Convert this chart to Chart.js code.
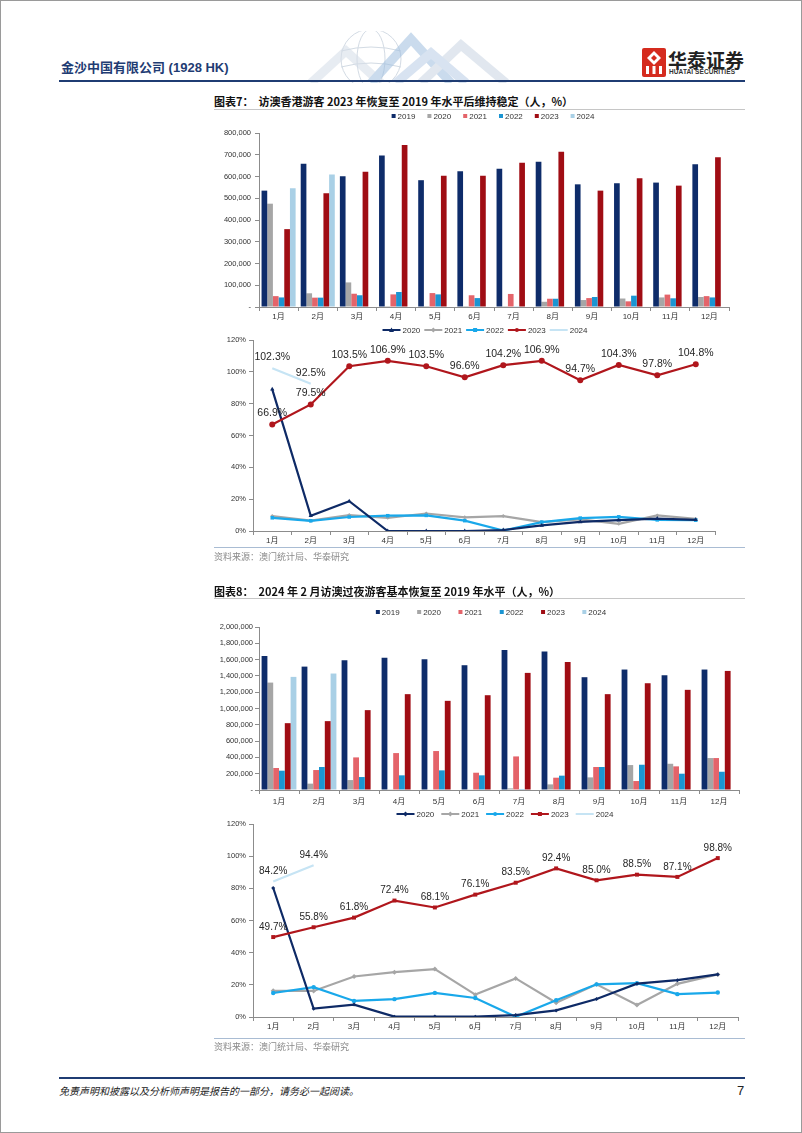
<!DOCTYPE html>
<html><head><meta charset="utf-8">
<script src="https://cdn.jsdelivr.net/npm/chart.js@4.4.1/dist/chart.umd.min.js"></script>
<style>
html,body{margin:0;padding:0;background:#fff;}
#page{position:relative;width:802px;height:1133px;box-sizing:border-box;border:1px solid #9a9a9a;overflow:hidden;font-family:"Liberation Sans","Noto Sans CJK SC",sans-serif;background:#fff;}
.abs{position:absolute;white-space:nowrap;}
canvas{position:absolute;}
</style></head><body><div id="page">

<svg class="abs" style="left:300px;top:30px" width="240" height="52" viewBox="0 0 240 52">
  <g fill="none" stroke="#cfd8e2" stroke-width="1" opacity="0.9">
    <circle cx="70" cy="28" r="30"/>
    <ellipse cx="70" cy="28" rx="14" ry="30"/>
    <path d="M40 20 Q70 12 100 20 M40 36 Q70 28 100 36"/>
  </g>
  <g fill="none" stroke-width="9" stroke-linejoin="miter" opacity="0.55">
    <polyline points="10,52 45,20 80,52" stroke="#d5dde8"/>
    <polyline points="70,52 110,8 150,52" stroke="#9fbfe0"/>
    <polyline points="120,52 160,14 205,52" stroke="#c9d5e3"/>
    <polyline points="95,52 130,22 165,52" stroke="#b9cde6"/>
  </g>
</svg>

<div class="abs" style="left:60px;top:58px;font-size:13px;line-height:18px;font-weight:bold;color:#1f3c73;">金沙中国有限公司 (1928 HK)</div>
<div class="abs" style="left:58px;top:79px;width:686px;height:2px;background:#1f3c73;"></div>

<svg class="abs" style="left:641px;top:47px" width="24" height="29" viewBox="0 0 24 29">
  <rect x="0" y="0" width="24" height="29" rx="2" fill="#d52b1e"/>
  <path d="M12 3 L19 10 L12 17 L5 10 Z" fill="#fff"/>
  <path d="M12 7 L15 10 L12 13 L9 10 Z" fill="#d52b1e"/>
  <rect x="4" y="18" width="3" height="8" fill="#fff"/>
  <rect x="10.5" y="18" width="3" height="8" fill="#fff"/>
  <rect x="17" y="18" width="3" height="8" fill="#fff"/>
</svg>
<div class="abs" style="left:667px;top:47px;font-size:19px;line-height:24px;font-weight:bold;color:#222;font-family:'Noto Sans CJK SC';">华泰证券</div>
<div class="abs" style="left:668px;top:67px;font-size:6.5px;line-height:8px;font-weight:bold;color:#333;letter-spacing:0.1px;">HUATAI SECURITIES</div>

<div class="abs" style="left:213px;top:92px;font-size:11px;line-height:16px;font-weight:bold;color:#111;font-family:'Noto Sans CJK SC','Liberation Sans';">图表7：&nbsp;&nbsp;访澳香港游客 2023 年恢复至 2019 年水平后维持稳定（人，%）</div>
<div class="abs" style="left:213px;top:108px;width:531px;height:1px;background:#c6c6c6;"></div>

<canvas id="c1" width="610" height="217" style="left:150px;top:108px;"></canvas>
<canvas id="c2" width="610" height="224" style="left:150px;top:322px;"></canvas>

<div class="abs" style="left:213px;top:546px;width:531px;height:1px;background:#a9bcd3;"></div>
<div class="abs" style="left:213px;top:550px;font-size:9px;line-height:12px;color:#8a8a8a;font-family:'Noto Sans CJK SC';">资料来源：澳门统计局、华泰研究</div>

<div class="abs" style="left:213px;top:582px;font-size:11px;line-height:16px;font-weight:bold;color:#111;font-family:'Noto Sans CJK SC','Liberation Sans';">图表8：&nbsp;&nbsp;2024 年 2 月访澳过夜游客基本恢复至 2019 年水平（人，%）</div>
<div class="abs" style="left:213px;top:597px;width:531px;height:1px;background:#c6c6c6;"></div>

<canvas id="c3" width="610" height="212" style="left:150px;top:598px;"></canvas>
<canvas id="c4" width="610" height="228" style="left:150px;top:806px;"></canvas>

<div class="abs" style="left:213px;top:1037px;width:531px;height:1px;background:#a9bcd3;"></div>
<div class="abs" style="left:213px;top:1040px;font-size:9px;line-height:12px;color:#8a8a8a;font-family:'Noto Sans CJK SC';">资料来源：澳门统计局、华泰研究</div>

<div class="abs" style="left:58px;top:1076px;width:686px;height:2px;background:#1f3c73;"></div>
<div class="abs" style="left:58px;top:1083px;font-size:10px;line-height:14px;font-style:italic;color:#222;font-family:'Noto Sans CJK SC';">免责声明和披露以及分析师声明是报告的一部分，请务必一起阅读。</div>
<div class="abs" style="left:736px;top:1082px;font-size:13px;line-height:16px;color:#222;">7</div>

</div>
<script>
// ---------- data ----------
const months = ['1月','2月','3月','4月','5月','6月','7月','8月','9月','10月','11月','12月'];
const years = ['2019','2020','2021','2022','2023','2024'];
const ratioYears = ['2020','2021','2022','2023','2024'];

// 图表7: 访澳香港游客 (人)
const hk2019 = [535000,659000,601000,697000,583000,624000,636000,668000,564000,569000,572000,656000];
const hk2020 = [475000,63000,113000,300,300,300,4000,24000,32000,39000,44000,46000];
const hk2021 = [50000,43000,61000,58000,64000,54000,60000,38000,41000,26000,57000,50000];
const hk2022 = [44000,43000,54000,69000,58000,41000,1500,38000,46000,52000,40000,44000];
const hk2023 = [358000,523000,622000,745000,604000,603000,663000,714000,535000,592000,558000,688000];
const hk2024 = [546000,609000,null,null,null,null,null,null,null,null,null,null];

// 图表7: 恢复率 (%)
const hkR2020 = [89.0,9.6,18.7,0.0,0.0,0.0,0.6,3.5,5.7,6.8,7.8,7.0];
const hkR2021 = [9.4,6.5,10.0,8.3,11.0,8.6,9.4,5.6,7.3,4.5,9.8,7.6];
const hkR2022 = [8.3,6.4,8.8,9.6,9.8,6.5,0.3,5.6,8.1,8.9,7.0,6.8];
const hkR2023 = [66.9,79.5,103.5,106.9,103.5,96.6,104.2,106.9,94.7,104.3,97.8,104.8];
const hkR2024 = [102.3,92.5,null,null,null,null,null,null,null,null,null,null];

// 图表8: 访澳过夜游客 (人)
const on2019 = [1645000,1514000,1592000,1624000,1604000,1531000,1718000,1698000,1384000,1478000,1408000,1478000];
const on2020 = [1318000,78000,122000,3000,5000,4000,20000,69000,155000,306000,322000,392000];
const on2021 = [270000,245000,400000,453000,478000,212000,412000,151000,282000,110000,290000,392000];
const on2022 = [237000,282000,159000,180000,241000,180000,2000,176000,282000,310000,200000,224000];
const on2023 = [820000,845000,980000,1176000,1094000,1163000,1437000,1571000,1176000,1310000,1229000,1461000];
const on2024 = [1388000,1429000,null,null,null,null,null,null,null,null,null,null];

// 图表8: 恢复率 (%)
const onR2020 = [80.2,5.2,7.7,0.2,0.3,0.2,1.2,4.1,11.2,20.7,22.9,26.5];
const onR2021 = [16.3,16.2,25.2,27.9,29.8,13.9,24.0,8.9,20.3,7.4,20.6,26.5];
const onR2022 = [14.9,18.6,10.0,11.1,15.0,11.8,0.1,10.4,20.3,21.0,14.2,15.2];
const onR2023 = [49.7,55.8,61.8,72.4,68.1,76.1,83.5,92.4,85.0,88.5,87.1,98.8];
const onR2024 = [84.2,94.4,null,null,null,null,null,null,null,null,null,null];

// 刻度
const barTicks1 = [0,100000,200000,300000,400000,500000,600000,700000,800000];
const barTicks2 = [0,200000,400000,600000,800000,1000000,1200000,1400000,1600000,1800000,2000000];
const pctTicks = [0,20,40,60,80,100,120];

// ---------- style ----------
const barColors = ['#0e2c6a','#a6a6a6','#e4646a','#1b95d2','#a00d14','#a9d0e6'];
const lineColors = ['#0e2a66','#a6a6a6','#19a8ea','#b0161c','#c6e4f4'];
const FONT = '"Liberation Sans","Noto Sans CJK SC",sans-serif';
const AX = '#8c8c8c';
const TXT = '#333333';

Chart.defaults.font.family = FONT;
Chart.defaults.animation = false;
Chart.defaults.responsive = false;
Chart.defaults.devicePixelRatio = 1;

function drawMarker(ctx, style, x, y, r, color){
  ctx.save();
  ctx.fillStyle = color; ctx.strokeStyle = color; ctx.lineWidth = 1;
  ctx.beginPath();
  if(style==='circle'){ ctx.arc(x,y,r,0,Math.PI*2); ctx.fill(); }
  else if(style==='rect'){ ctx.fillRect(x-r,y-r,2*r,2*r); }
  else if(style==='rectRot'){ ctx.moveTo(x,y-r-0.5); ctx.lineTo(x+r+0.5,y); ctx.lineTo(x,y+r+0.5); ctx.lineTo(x-r-0.5,y); ctx.closePath(); ctx.fill(); }
  else if(style==='triangle'){ ctx.moveTo(x,y-r-0.5); ctx.lineTo(x+r+0.5,y+r); ctx.lineTo(x-r-0.5,y+r); ctx.closePath(); ctx.fill(); }
  ctx.restore();
}

const customLegend = {
  id:'customLegend',
  afterDraw(chart, args, o){
    const ctx = chart.ctx, ca = chart.chartArea;
    const ds = chart.data.datasets;
    ctx.save();
    ctx.font = o.fontSize+'px '+FONT;
    ctx.textBaseline = 'middle';
    const symW = o.type==='line' ? o.lineLen : o.box;
    const widths = ds.map(d => symW + o.symGap + ctx.measureText(d.label).width);
    const total = widths.reduce((a,b)=>a+b,0) + o.gap*(ds.length-1);
    let x = (ca.left+ca.right)/2 + o.dx - total/2;
    const y = ca.top - o.dy;
    ds.forEach((d,i)=>{
      if(o.type==='line'){
        ctx.strokeStyle = d.borderColor; ctx.lineWidth = 2;
        ctx.beginPath(); ctx.moveTo(x,y); ctx.lineTo(x+o.lineLen,y); ctx.stroke();
        if(d.pointRadius>0) drawMarker(ctx, d.pointStyle, x+o.lineLen/2, y, 2, d.borderColor);
      } else {
        ctx.fillStyle = d.backgroundColor;
        ctx.fillRect(x, y-o.box/2, o.box, o.box);
      }
      ctx.fillStyle = TXT;
      ctx.fillText(d.label, x+symW+o.symGap, y+0.5);
      x += widths[i] + o.gap;
    });
    ctx.restore();
  }
};

const valueLabels = {
  id:'valueLabels',
  afterDatasetsDraw(chart, args, o){
    const ctx = chart.ctx;
    ctx.save();
    ctx.font = o.fontSize+'px '+FONT;
    ctx.fillStyle = '#262626';
    ctx.textAlign = 'center';
    ctx.textBaseline = 'middle';
    chart.data.datasets.forEach((d,i)=>{
      if(!d.showLabels) return;
      const meta = chart.getDatasetMeta(i);
      meta.data.forEach((el,j)=>{
        const v = d.data[j];
        if(v===null || v===undefined) return;
        ctx.fillText(v.toFixed(1)+'%', el.x, el.y - o.offset);
      });
    });
    ctx.restore();
  }
};

function fmtNum(v){ return v===0 ? '-' : v.toLocaleString('en-US'); }

function barChart(id, series, ticksArr, g){
  const datasets = series.map((arr,i)=>({
    label: years[i], data: arr, backgroundColor: barColors[i],
    categoryPercentage: g.cat, barPercentage: 1.0, borderWidth: 0
  }));
  return new Chart(document.getElementById(id), {
    type:'bar',
    data:{ labels: months, datasets },
    options:{
      layout:{ padding:{ top:g.padTop, right:g.padRight, left:0, bottom:0 } },
      plugins:{ legend:{display:false}, tooltip:{enabled:false},
        customLegend:{ type:'bar', fontSize:8, box:4, symGap:2, gap:g.legGap, dx:g.legDx, dy:g.legDy } },
      scales:{
        x:{ offset:true,
            grid:{ offset:true, drawOnChartArea:false, tickLength:4, color:AX },
            border:{ color:AX },
            ticks:{ font:{size:8}, color:TXT, padding:g.xPad, maxRotation:0, autoSkip:false },
            afterFit(s){ s.height = g.xH; } },
        y:{ min:0, max:ticksArr[ticksArr.length-1],
            afterBuildTicks(s){ s.ticks = ticksArr.map(v=>({value:v})); },
            grid:{ drawOnChartArea:false, tickLength:4, color:AX },
            border:{ color:AX },
            ticks:{ font:{size:7.5}, color:TXT, padding:g.yPad, callback:(v)=>fmtNum(v) },
            afterFit(s){ s.width = g.yW; } }
      }
    },
    plugins:[customLegend]
  });
}

function lineChart(id, series, styles, g){
  const datasets = series.map((arr,i)=>({
    label: ratioYears[i], data: arr, borderColor: lineColors[i], backgroundColor: lineColors[i],
    borderWidth: 2.2, pointStyle: styles[i].ps, pointRadius: styles[i].r, pointBorderWidth: 0,
    pointBackgroundColor: lineColors[i], tension: 0, spanGaps:false, showLabels: styles[i].lab,
    order: styles[i].order
  }));
  return new Chart(document.getElementById(id), {
    type:'line',
    data:{ labels: months, datasets },
    options:{
      layout:{ padding:{ top:g.padTop, right:g.padRight, left:0, bottom:0 } },
      plugins:{ legend:{display:false}, tooltip:{enabled:false},
        customLegend:{ type:'line', fontSize:8, lineLen:18, symGap:2, gap:g.legGap, dx:g.legDx, dy:g.legDy },
        valueLabels:{ fontSize:g.labFont, offset:g.labOff } },
      scales:{
        x:{ offset:true,
            grid:{ offset:true, drawOnChartArea:false, tickLength:4, color:AX },
            border:{ color:AX },
            ticks:{ font:{size:8}, color:TXT, padding:g.xPad, maxRotation:0, autoSkip:false },
            afterFit(s){ s.height = g.xH; } },
        y:{ min:0, max:120,
            afterBuildTicks(s){ s.ticks = pctTicks.map(v=>({value:v})); },
            grid:{ drawOnChartArea:false, tickLength:4, color:AX },
            border:{ color:AX },
            ticks:{ font:{size:7.5}, color:TXT, padding:3, callback:(v)=>v+'%' },
            afterFit(s){ s.width = g.yW; } }
      }
    },
    plugins:[customLegend, valueLabels]
  });
}

// 图表7 柱状
barChart('c1', [hk2019,hk2020,hk2021,hk2022,hk2023,hk2024], barTicks1,
  { cat:0.87, padTop:24, padRight:32, yW:108, xH:19, xPad:1, yPad:4, legGap:12, legDx:-1, legDy:17 });

// 图表7 折线
lineChart('c2', [hkR2020,hkR2021,hkR2022,hkR2023,hkR2024], [
  {ps:'triangle',r:2.5,lab:false,order:2},
  {ps:'rectRot',r:2,lab:false,order:4},
  {ps:'rect',r:2.5,lab:false,order:3},
  {ps:'circle',r:3,lab:true,order:1},
  {ps:'circle',r:0,lab:true,order:5}
], { padTop:17, padRight:46, yW:102, xH:16, xPad:1, legGap:4, legDx:1, legDy:10, labFont:10.5, labOff:11 });

// 图表8 柱状
barChart('c3', [on2019,on2020,on2021,on2022,on2023,on2024], barTicks2,
  { cat:0.87, padTop:28, padRight:22, yW:108, xH:21, xPad:3, yPad:2, legGap:17.5, legDx:-8, legDy:15 });

// 图表8 折线
lineChart('c4', [onR2020,onR2021,onR2022,onR2023,onR2024], [
  {ps:'rectRot',r:2,lab:false,order:2},
  {ps:'rectRot',r:2.5,lab:false,order:4},
  {ps:'circle',r:2.2,lab:false,order:3},
  {ps:'rect',r:2.8,lab:true,order:1},
  {ps:'circle',r:0,lab:true,order:5}
], { padTop:17, padRight:23, yW:102, xH:18, xPad:1, legGap:7, legDx:9.5, legDy:10, labFont:10, labOff:10 });
</script>
</body></html>
